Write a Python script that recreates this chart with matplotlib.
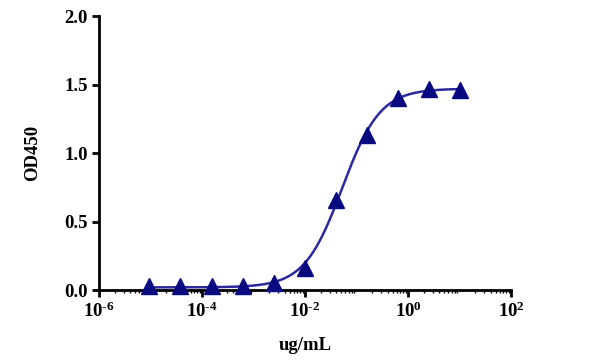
import numpy as np
import matplotlib
matplotlib.use("Agg")
import matplotlib.pyplot as plt
from matplotlib.ticker import LogLocator, FixedLocator

plt.rcParams["font.family"] = ["Liberation Serif", "DejaVu Serif"]
plt.rcParams["font.weight"] = "bold"
plt.rcParams["mathtext.fontset"] = "custom"
plt.rcParams["mathtext.rm"] = "Liberation Serif:bold"
plt.rcParams["mathtext.bf"] = "Liberation Serif:bold"
plt.rcParams["mathtext.it"] = "Liberation Serif:bold"

# 4-fold serial dilution, ug/mL
conc = [9.5e-6, 3.8e-5, 1.53e-4, 6.1e-4, 2.44e-3, 9.77e-3, 0.039, 0.156, 0.625, 2.5, 10.0]
od450 = [0.03, 0.03, 0.03, 0.03, 0.05, 0.16, 0.66, 1.13, 1.40, 1.47, 1.46]

x_ticks = [1e-6, 1e-4, 1e-2, 1e0, 1e2]
x_tick_labels = [r"$10^{\text{-}6}$", r"$10^{\text{-}4}$", r"$10^{\text{-}2}$", r"$10^{0}$", r"$10^{2}$"]
y_ticks = [0.0, 0.5, 1.0, 1.5, 2.0]

line_color = "#2a2a9c"
marker_color = "#0a0a80"


def four_pl(x, bottom, top, ec50, hill):
    return bottom + (top - bottom) / (1 + (ec50 / x) ** hill)


def fit_four_pl(x, y):
    # coarse grid least squares, good enough for a drawn curve
    x = np.asarray(x)
    y = np.asarray(y)
    best = None
    for bottom in np.linspace(0.02, 0.04, 5):
        for top in np.linspace(1.42, 1.52, 11):
            for ec50 in np.logspace(-1.6, -1.0, 61):
                for hill in np.linspace(0.8, 1.6, 41):
                    err = np.sum((four_pl(x, bottom, top, ec50, hill) - y) ** 2)
                    if best is None or err < best[0]:
                        best = (err, bottom, top, ec50, hill)
    return best[1:]


params = fit_four_pl(conc, od450)

fig = plt.figure(figsize=(6, 3.64), dpi=100)
ax = fig.add_axes([0.165, 0.203, 0.687, 0.753])

xs = np.logspace(np.log10(conc[0]), np.log10(conc[-1]), 300)
ax.plot(xs, four_pl(xs, *params), color=line_color, linewidth=1.8, zorder=2)
ax.plot(conc, od450, linestyle="none", marker="^", markersize=11,
        color=marker_color, zorder=3, clip_on=False)

ax.set_xscale("log")
ax.set_xlim(1e-6, 1e2)
ax.set_ylim(0, 2.0)
ax.xaxis.set_major_locator(FixedLocator(x_ticks))
ax.set_xticklabels(x_tick_labels)
ax.xaxis.set_minor_locator(LogLocator(base=10, subs=np.arange(2, 10), numticks=20))
ax.set_yticks(y_ticks)
ax.set_yticklabels([f"{v:.1f}" for v in y_ticks])

for side in ("top", "right"):
    ax.spines[side].set_visible(False)
for side in ("left", "bottom"):
    ax.spines[side].set_linewidth(2)

ax.tick_params(which="major", direction="out", length=5, width=2, labelsize=13.5, pad=3)
ax.tick_params(which="minor", axis="x", direction="out", length=2.5, width=1)
for lbl in ax.get_xticklabels() + ax.get_yticklabels():
    lbl.set_fontweight("bold")

ax.set_xlabel("ug/mL", fontsize=13.5, fontweight="bold", labelpad=12)
ax.set_ylabel("OD450", fontsize=13.5, fontweight="bold", labelpad=17)

fig.savefig("out.png", dpi=100)
